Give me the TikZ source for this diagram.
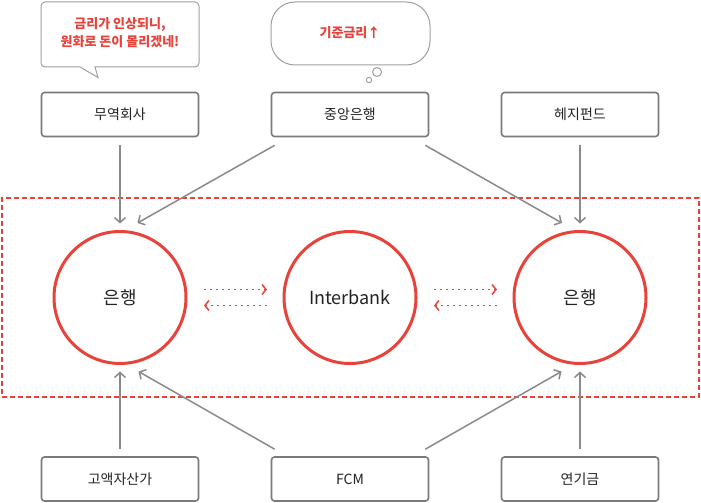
\documentclass[tikz,border=0pt]{standalone}
\usepackage{fontspec}
\setmainfont{Noto Sans CJK KR}
\usetikzlibrary{arrows.meta,calc}
\definecolor{myred}{HTML}{E8433A}
\definecolor{boxgray}{HTML}{7A7A7A}
\definecolor{arrgray}{HTML}{8A8A8A}
\definecolor{bubgray}{HTML}{A0A0A0}
\definecolor{txt}{HTML}{222222}
\begin{document}
\begin{tikzpicture}[x=1pt,y=-1pt,
  box/.style={draw=boxgray,line width=1.6pt,rounded corners=3pt,minimum width=157pt,minimum height=44pt,inner sep=0pt,font=\fontsize{14}{16}\selectfont,text=txt},
  ring/.style={circle,draw=myred,line width=3pt,minimum size=132pt,inner sep=0pt,font=\fontsize{18}{20}\selectfont,text=txt},
  garrow/.style={draw=arrgray,line width=1.5pt,-{Straight Barb[length=5pt,width=11pt]}},
  rarrow/.style={draw=myred,line width=1.8pt,dash pattern=on 2pt off 4pt,-{Straight Barb[length=4pt,width=10pt,line width=1.5pt]}},
  bubble/.style={draw=bubgray,line width=1pt,fill=white},
  saytext/.style={font=\fontsize{13}{18}\selectfont\bfseries,text=myred,align=center},
  zone/.style={draw=myred,line width=1.5pt,dash pattern=on 5pt off 3pt,minimum width=697pt,minimum height=199pt,inner sep=0pt}
]
\useasboundingbox (0,0) rectangle (701,503);

% dashed zone
\node[zone] (zone) at (350.5,297.5) {};

% boxes
\node[box] (trade) at (120,114.5) {무역회사};
\node[box] (cb) at (350,114.5) {중앙은행};
\node[box] (hedge) at (580,114.5) {헤지펀드};
\node[box] (hnw) at (120,479) {고액자산가};
\node[box] (fcm) at (350,479) {FCM};
\node[box] (pension) at (580,479) {연기금};

% circles
\node[ring] (bankL) at (120,297.5) {은행};
\node[ring] (inter) at (350,297.5) {Interbank};
\node[ring] (bankR) at (580,297.5) {은행};

% speech bubble
\draw[bubble] (80,67) [rounded corners=4pt] -- (41,67) -- (41,2) -- (199,2) -- (199,67) [sharp corners] -- (95,67) -- (98,77.5) -- cycle;
\node[saytext] (say) at (120,33) {금리가 인상되니,\\원화로 돈이 몰리겠네!};

% thought bubble
\draw[bubble,rounded corners=24pt] (271,2) rectangle (430,65);
\node[saytext,font=\fontsize{13}{16}\selectfont\bfseries] (think) at (350,33) {기준금리↑};
\draw[bubble] (377,72) circle (4.5pt);
\draw[bubble] (369,80) circle (2.7pt);

% grey arrows top
\draw[garrow] ($(trade.south)+(0,8)$) -- ($(bankL.center)+(0,-74)$);
\draw[garrow] ($(cb.south west)+(4,8)$) -- ($(bankL.center)+(17.5,-74.5)$);
\draw[garrow] ($(cb.south east)+(-4,8)$) -- ($(bankR.center)+(-18,-74.5)$);
\draw[garrow] ($(hedge.south)+(0,8)$) -- ($(bankR.center)+(0,-74)$);
% grey arrows bottom
\draw[garrow] ($(hnw.north)+(0,-7)$) -- ($(bankL.center)+(0,74)$);
\draw[garrow] ($(fcm.north west)+(4,-7)$) -- ($(bankL.center)+(18.5,74)$);
\draw[garrow] ($(fcm.north east)+(-4,-7)$) -- ($(bankR.center)+(-18.5,74)$);
\draw[garrow] ($(pension.north)+(0,-7)$) -- ($(bankR.center)+(0,74)$);

% red dotted arrows
\draw[rarrow] ($(bankL.center)+(84,-8)$) -- ($(inter.center)+(-83,-8)$);
\draw[rarrow] ($(inter.center)+(-83,8)$) -- ($(bankL.center)+(84,8)$);
\draw[rarrow] ($(inter.center)+(84,-8)$) -- ($(bankR.center)+(-83,-8)$);
\draw[rarrow] ($(bankR.center)+(-83,8)$) -- ($(inter.center)+(84,8)$);
\end{tikzpicture}
\end{document}
